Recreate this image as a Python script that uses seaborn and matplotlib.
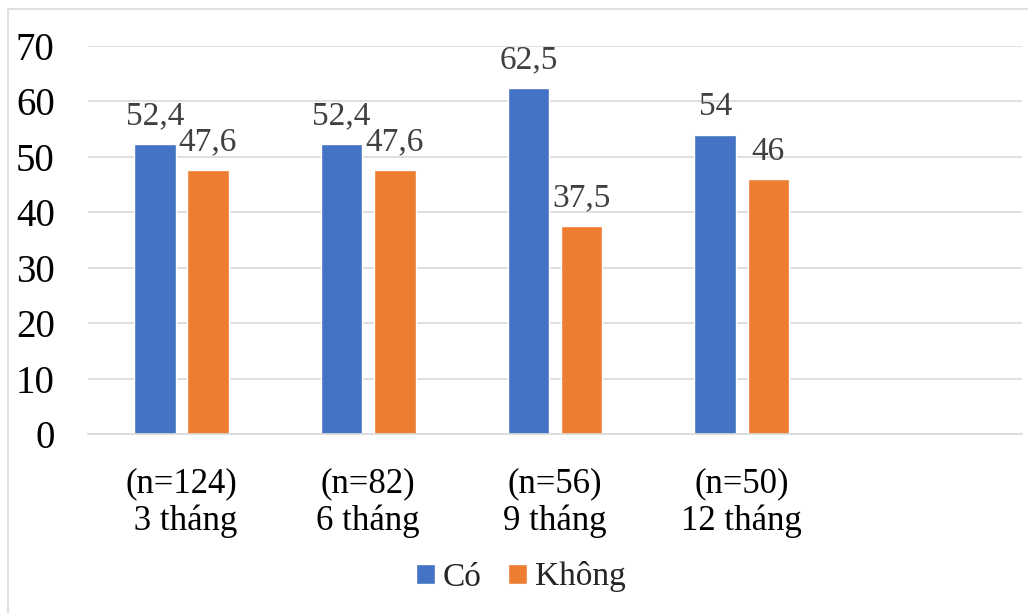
import matplotlib
matplotlib.use("Agg")
import matplotlib.pyplot as plt
from matplotlib.patches import Rectangle
import seaborn as sns
import pandas as pd

# Follow-up periods and the share (%) answering each option
periods = ["(n=124)\n 3 tháng", "(n=82)\n6 tháng", "(n=56)\n9 tháng", "(n=50)\n12 tháng"]
groups = ["Có", "Không"]
co_values = [52.4, 52.4, 62.5, 54]
khong_values = [47.6, 47.6, 37.5, 46]
y_ticks = [0, 10, 20, 30, 40, 50, 60, 70]

colors = {"Có": "#4472C4", "Không": "#ED7D31"}

df = pd.DataFrame({
    "period": periods * 2,
    "group": [groups[0]] * len(periods) + [groups[1]] * len(periods),
    "value": co_values + khong_values,
})

sns.set_theme(style="white")
plt.rcParams["font.family"] = ["Liberation Serif", "DejaVu Serif"]

fig = plt.figure(figsize=(10.28, 6.13), dpi=100)
W, H = 1028, 613
ax = fig.add_axes([88 / W, (H - 434) / H, (1022 - 88) / W, (434 - 46) / H])

sns.barplot(data=df, x="period", y="value", hue="group", order=periods,
            hue_order=groups, palette=colors, width=0.57, gap=0.22,
            saturation=1, ax=ax, legend=True)

ax.set_xlim(-0.5, 4.5)
ax.set_ylim(0, 70)
ax.set_yticks(y_ticks)
ax.set_xlabel("")
ax.set_ylabel("")
ax.grid(axis="y", color="#d9d9d9", linewidth=1.2)
ax.set_axisbelow(True)
for side in ["top", "right", "left"]:
    ax.spines[side].set_visible(False)
ax.spines["bottom"].set_color("#d9d9d9")
ax.spines["bottom"].set_linewidth(1.2)

ax.tick_params(axis="y", length=0, pad=24, labelsize=28, labelcolor="black")
ax.tick_params(axis="x", length=0, pad=24, labelsize=25, labelcolor="black")
for lab in ax.get_xticklabels():
    lab.set_linespacing(1.17)

for container in ax.containers:
    labels = [f"{bar.get_height():g}".replace(".", ",") for bar in container]
    ax.bar_label(container, labels=labels, padding=9, fontsize=24, color="#404040")

handles, lbls = ax.get_legend_handles_labels()
ax.get_legend().remove()
fig.legend(handles, lbls, loc="center", bbox_to_anchor=(521 / W, (H - 577) / H),
           ncol=2, frameon=False, fontsize=24, handlelength=0.55,
           handleheight=0.55, handletextpad=0.25, columnspacing=0.8)

# Light frame around the chart area
fig.patches.append(Rectangle((7.5 / W, -0.05), 1.1, (H - 9) / H + 0.05,
                             transform=fig.transFigure, fill=False,
                             edgecolor="#d9d9d9", linewidth=1.2))

fig.savefig("out.png", dpi=100)
